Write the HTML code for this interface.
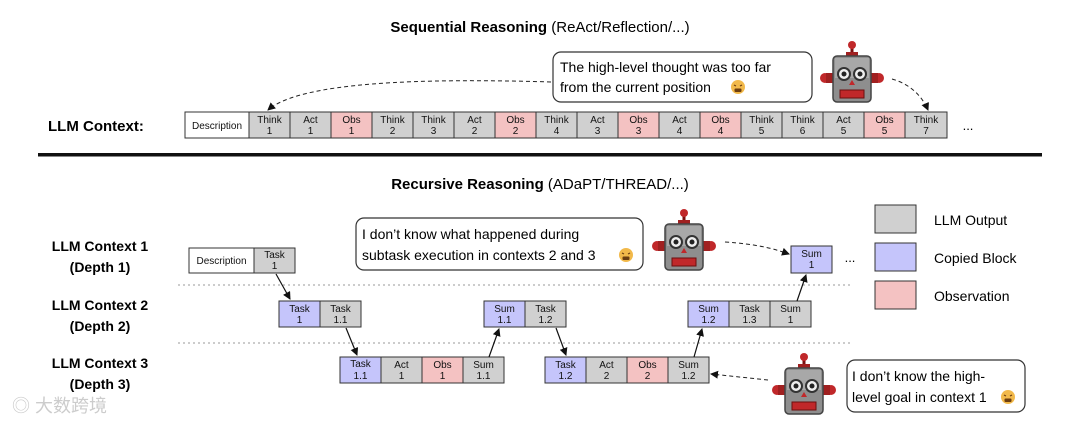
<!DOCTYPE html>
<html><head><meta charset="utf-8"><style>
html,body{margin:0;padding:0;background:#fff;}
svg{display:block;font-family:"Liberation Sans",Arial,sans-serif;}
</style></head><body>
<svg width="1080" height="424" viewBox="0 0 1080 424" xmlns="http://www.w3.org/2000/svg">
<defs>
<marker id="ah" markerWidth="8" markerHeight="8" refX="7" refY="4" orient="auto" markerUnits="userSpaceOnUse"><path d="M0,0 L8,4 L0,8 z" fill="#111"/></marker>
<g id="robot">
 <line x1="32" y1="4" x2="32" y2="14" stroke="#7a1010" stroke-width="3"/>
 <circle cx="32" cy="5" r="4" fill="#c0282a"/>
 <rect x="26" y="12" width="12" height="5" fill="#a02020"/>
 <circle cx="5" cy="38" r="5" fill="#c0282a"/><circle cx="59" cy="38" r="5" fill="#c0282a"/>
 <rect x="6" y="33" width="8" height="10" fill="#a02020"/><rect x="50" y="33" width="8" height="10" fill="#a02020"/>
 <rect x="13" y="16" width="38" height="46" rx="4" fill="#8e8e8e" stroke="#444" stroke-width="1.5"/>
 <rect x="15" y="18" width="34" height="20" fill="#a8a8a8"/>
 <circle cx="24" cy="34" r="6" fill="#eee" stroke="#333" stroke-width="2"/><circle cx="24" cy="34" r="2.5" fill="#222"/>
 <circle cx="40" cy="34" r="6" fill="#eee" stroke="#333" stroke-width="2"/><circle cx="40" cy="34" r="2.5" fill="#222"/>
 <path d="M32,40 L29,45 L35,45 z" fill="#c0282a"/>
 <rect x="20" y="50" width="24" height="8" fill="#c0282a" stroke="#6a0f0f" stroke-width="1"/>
</g>
<g id="emo"><circle cx="0" cy="0" r="7" fill="#f2b94a"/><path d="M-4,-2 l2,1 M4,-2 l-2,1" stroke="#6b3d10" stroke-width="1.2"/><rect x="-3.5" y="1.5" width="7" height="3.5" rx="1" fill="#6b3d10"/></g>
</defs>

<text x="540" y="32" text-anchor="middle" font-size="15"><tspan font-weight="bold">Sequential Reasoning</tspan> (ReAct/Reflection/...)</text>
<text x="48" y="131" font-size="15" font-weight="bold">LLM Context:</text>

<g font-size="10" text-anchor="middle" stroke="#333" stroke-width="1">
<rect x="185" y="112" width="64" height="26" fill="#fff"/>
<text x="217" y="129" stroke="none" fill="#111">Description</text>
</g>
<g font-size="10" text-anchor="middle">
<g id="seqcells"></g>
</g>
<!-- seq cells -->
<g font-size="10" text-anchor="middle" fill="#111">
<rect x="249" y="112" width="41" height="26" fill="#d0d0d0" stroke="#333"/><text x="269.5" y="123">Think</text><text x="269.5" y="134">1</text>
<rect x="290" y="112" width="41" height="26" fill="#d0d0d0" stroke="#333"/><text x="310.5" y="123">Act</text><text x="310.5" y="134">1</text>
<rect x="331" y="112" width="41" height="26" fill="#f4c2c2" stroke="#333"/><text x="351.5" y="123">Obs</text><text x="351.5" y="134">1</text>
<rect x="372" y="112" width="41" height="26" fill="#d0d0d0" stroke="#333"/><text x="392.5" y="123">Think</text><text x="392.5" y="134">2</text>
<rect x="413" y="112" width="41" height="26" fill="#d0d0d0" stroke="#333"/><text x="433.5" y="123">Think</text><text x="433.5" y="134">3</text>
<rect x="454" y="112" width="41" height="26" fill="#d0d0d0" stroke="#333"/><text x="474.5" y="123">Act</text><text x="474.5" y="134">2</text>
<rect x="495" y="112" width="41" height="26" fill="#f4c2c2" stroke="#333"/><text x="515.5" y="123">Obs</text><text x="515.5" y="134">2</text>
<rect x="536" y="112" width="41" height="26" fill="#d0d0d0" stroke="#333"/><text x="556.5" y="123">Think</text><text x="556.5" y="134">4</text>
<rect x="577" y="112" width="41" height="26" fill="#d0d0d0" stroke="#333"/><text x="597.5" y="123">Act</text><text x="597.5" y="134">3</text>
<rect x="618" y="112" width="41" height="26" fill="#f4c2c2" stroke="#333"/><text x="638.5" y="123">Obs</text><text x="638.5" y="134">3</text>
<rect x="659" y="112" width="41" height="26" fill="#d0d0d0" stroke="#333"/><text x="679.5" y="123">Act</text><text x="679.5" y="134">4</text>
<rect x="700" y="112" width="41" height="26" fill="#f4c2c2" stroke="#333"/><text x="720.5" y="123">Obs</text><text x="720.5" y="134">4</text>
<rect x="741" y="112" width="41" height="26" fill="#d0d0d0" stroke="#333"/><text x="761.5" y="123">Think</text><text x="761.5" y="134">5</text>
<rect x="782" y="112" width="41" height="26" fill="#d0d0d0" stroke="#333"/><text x="802.5" y="123">Think</text><text x="802.5" y="134">6</text>
<rect x="823" y="112" width="41" height="26" fill="#d0d0d0" stroke="#333"/><text x="843.5" y="123">Act</text><text x="843.5" y="134">5</text>
<rect x="864" y="112" width="41" height="26" fill="#f4c2c2" stroke="#333"/><text x="884.5" y="123">Obs</text><text x="884.5" y="134">5</text>
<rect x="905" y="112" width="42" height="26" fill="#d0d0d0" stroke="#333"/><text x="926" y="123">Think</text><text x="926" y="134">7</text>
</g>
<text x="968" y="130" font-size="13" text-anchor="middle">...</text>

<rect x="553" y="52" width="259" height="50" rx="8" fill="#fff" stroke="#333" stroke-width="1.2"/>
<text x="560" y="72" font-size="14">The high-level thought was too far</text>
<text x="560" y="92" font-size="14">from the current position</text>
<use href="#emo" x="738" y="87"/>
<path d="M551,82 C420,78 300,82 268,110" fill="none" stroke="#222" stroke-dasharray="4,3" marker-end="url(#ah)"/>
<use href="#robot" x="820" y="40"/>
<path d="M892,79 C910,84 922,96 928,110" fill="none" stroke="#222" stroke-dasharray="4,3" marker-end="url(#ah)"/>

<rect x="38" y="153" width="1004" height="3.5" fill="#111"/>

<text x="540" y="189" text-anchor="middle" font-size="15"><tspan font-weight="bold">Recursive Reasoning</tspan> (ADaPT/THREAD/...)</text>

<g font-size="14" font-weight="bold" text-anchor="middle">
<text x="100" y="251">LLM Context 1</text><text x="100" y="272">(Depth 1)</text>
<text x="100" y="310">LLM Context 2</text><text x="100" y="331">(Depth 2)</text>
<text x="100" y="368">LLM Context 3</text><text x="100" y="389">(Depth 3)</text>
</g>

<line x1="178" y1="285" x2="852" y2="285" stroke="#999" stroke-dasharray="2,3"/>
<line x1="178" y1="343" x2="852" y2="343" stroke="#999" stroke-dasharray="2,3"/>

<g font-size="10" text-anchor="middle" fill="#111" stroke-width="1">
<rect x="189" y="248" width="65" height="25" fill="#fff" stroke="#333"/><text x="221.5" y="264">Description</text>
<rect x="254" y="248" width="41" height="25" fill="#d0d0d0" stroke="#333"/><text x="274.5" y="258">Task</text><text x="274.5" y="269">1</text>
<rect x="791" y="246" width="41" height="27" fill="#c5c5fb" stroke="#333"/><text x="811.5" y="257">Sum</text><text x="811.5" y="268">1</text>

<rect x="279" y="301" width="41" height="26" fill="#c5c5fb" stroke="#333"/><text x="299.5" y="312">Task</text><text x="299.5" y="323">1</text>
<rect x="320" y="301" width="41" height="26" fill="#d0d0d0" stroke="#333"/><text x="340.5" y="312">Task</text><text x="340.5" y="323">1.1</text>
<rect x="484" y="301" width="41" height="26" fill="#c5c5fb" stroke="#333"/><text x="504.5" y="312">Sum</text><text x="504.5" y="323">1.1</text>
<rect x="525" y="301" width="41" height="26" fill="#d0d0d0" stroke="#333"/><text x="545.5" y="312">Task</text><text x="545.5" y="323">1.2</text>
<rect x="688" y="301" width="41" height="26" fill="#c5c5fb" stroke="#333"/><text x="708.5" y="312">Sum</text><text x="708.5" y="323">1.2</text>
<rect x="729" y="301" width="41" height="26" fill="#d0d0d0" stroke="#333"/><text x="749.5" y="312">Task</text><text x="749.5" y="323">1.3</text>
<rect x="770" y="301" width="41" height="26" fill="#d0d0d0" stroke="#333"/><text x="790.5" y="312">Sum</text><text x="790.5" y="323">1</text>

<rect x="340" y="357" width="41" height="26" fill="#c5c5fb" stroke="#333"/><text x="360.5" y="367">Task</text><text x="360.5" y="379">1.1</text>
<rect x="381" y="357" width="41" height="26" fill="#d0d0d0" stroke="#333"/><text x="401.5" y="368">Act</text><text x="401.5" y="379">1</text>
<rect x="422" y="357" width="41" height="26" fill="#f4c2c2" stroke="#333"/><text x="442.5" y="368">Obs</text><text x="442.5" y="379">1</text>
<rect x="463" y="357" width="41" height="26" fill="#d0d0d0" stroke="#333"/><text x="483.5" y="368">Sum</text><text x="483.5" y="379">1.1</text>
<rect x="545" y="357" width="41" height="26" fill="#c5c5fb" stroke="#333"/><text x="565.5" y="368">Task</text><text x="565.5" y="379">1.2</text>
<rect x="586" y="357" width="41" height="26" fill="#d0d0d0" stroke="#333"/><text x="606.5" y="368">Act</text><text x="606.5" y="379">2</text>
<rect x="627" y="357" width="41" height="26" fill="#f4c2c2" stroke="#333"/><text x="647.5" y="368">Obs</text><text x="647.5" y="379">2</text>
<rect x="668" y="357" width="41" height="26" fill="#d0d0d0" stroke="#333"/><text x="688.5" y="368">Sum</text><text x="688.5" y="379">1.2</text>
</g>
<text x="850" y="262" font-size="13" text-anchor="middle">...</text>

<g stroke="#111" stroke-width="1.2" marker-end="url(#ah)">
<line x1="276" y1="274" x2="290" y2="299"/>
<line x1="346" y1="328" x2="357" y2="355"/>
<line x1="489" y1="357" x2="499" y2="329"/>
<line x1="556" y1="328" x2="566" y2="355"/>
<line x1="694" y1="357" x2="702" y2="329"/>
<line x1="797" y1="301" x2="806" y2="275"/>
</g>

<rect x="356" y="218" width="287" height="52" rx="8" fill="#fff" stroke="#333" stroke-width="1.2"/>
<text x="362" y="239" font-size="14">I don’t know what happened during</text>
<text x="362" y="260" font-size="14">subtask execution in contexts 2 and 3</text>
<use href="#emo" x="626" y="255"/>
<use href="#robot" x="652" y="208"/>
<path d="M725,242 C755,244 772,248 789,254" fill="none" stroke="#222" stroke-dasharray="4,3" marker-end="url(#ah)"/>

<use href="#robot" x="772" y="352"/>
<path d="M768,380 L711,374" fill="none" stroke="#222" stroke-dasharray="4,3" marker-end="url(#ah)"/>
<rect x="847" y="360" width="178" height="52" rx="8" fill="#fff" stroke="#333" stroke-width="1.2"/>
<text x="852" y="381" font-size="14">I don’t know the high-</text>
<text x="852" y="402" font-size="14">level goal in context 1</text>
<use href="#emo" x="1008" y="397"/>

<rect x="875" y="205" width="41" height="28" fill="#d0d0d0" stroke="#333"/>
<rect x="875" y="243" width="41" height="28" fill="#c5c5fb" stroke="#333"/>
<rect x="875" y="281" width="41" height="28" fill="#f4c2c2" stroke="#333"/>
<g font-size="14"><text x="934" y="225">LLM Output</text><text x="934" y="263">Copied Block</text><text x="934" y="301">Observation</text></g>

<text x="12" y="412" font-size="18" fill="#ccc">◎ 大数跨境</text>
</svg>
</body></html>
